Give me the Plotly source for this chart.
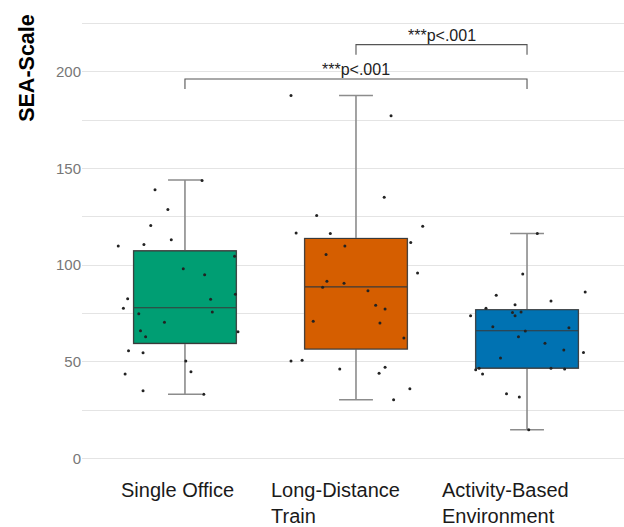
import plotly.graph_objects as go

# ---------------- data ----------------
categories = ["Single Office", "Long-Distance<br>Train", "Activity-Based<br>Environment"]
colors = ["#009E73", "#D55E00", "#0072B2"]

single_office = [138.9, 128.7, 120.4, 113.1, 109.9, 110.6, 104.6, 98.1, 95.0, 84.9,
                 82.3, 82.6, 77.6, 74.8, 75.7, 70.4, 65.5, 66.0, 62.9, 55.7,
                 54.7, 50.4, 44.8, 43.6, 35.0, 33.2, 143.7]
single_office_jitter = [-0.175, -0.10, -0.20, -0.08, -0.39, -0.24, 0.29, -0.01, 0.115, 0.295,
                        0.15, -0.335, -0.36, -0.27, 0.16, -0.12, 0.31, -0.26, -0.23, -0.33,
                        -0.245, 0.005, 0.035, -0.35, -0.245, 0.11, 0.10]

long_distance_train = [187.7, 177.2, 135.1, 125.6, 120.1, 116.6, 116.3, 111.6, 109.9, 105.4,
                       95.9, 91.6, 90.6, 88.5, 86.7, 79.2, 77.3, 70.9, 70.0, 62.3,
                       50.4, 50.7, 46.2, 47.1, 44.0, 36.0, 30.3]
long_distance_train_jitter = [-0.38, 0.205, 0.165, -0.23, 0.39, -0.35, -0.15, 0.32, -0.065, -0.175,
                              0.36, -0.17, -0.07, -0.195, 0.07, 0.115, 0.17, -0.25, 0.14, 0.28,
                              -0.38, -0.315, -0.095, 0.17, 0.135, 0.315, 0.22]

activity_based = [116.3, 95.4, 86.1, 84.4, 81.4, 79.5, 77.6, 75.4, 75.7, 73.8,
                  73.8, 68.1, 67.6, 65.9, 62.9, 59.5, 56.0, 54.8, 51.9, 46.6,
                  45.9, 46.6, 46.2, 43.6, 33.4, 31.8, 14.8]
activity_based_jitter = [0.06, -0.025, 0.34, -0.18, 0.14, -0.07, -0.24, -0.085, -0.035, -0.07,
                         -0.33, -0.2, 0.245, -0.01, -0.05, 0.105, 0.215, 0.33, -0.155, -0.28,
                         -0.30, 0.14, 0.22, -0.26, -0.12, -0.045, 0.01]

# box statistics
q1 = [59.5, 56.6, 46.7]
median = [77.9, 88.7, 66.0]
q3 = [107.3, 113.7, 76.9]
lower_whisker = [33.2, 30.3, 14.8]
upper_whisker = [144.0, 187.7, 116.3]

# significance comparisons: (group a, group b, bracket height, label)
comparisons = [(0, 2, 196.2, "***p<.001"), (1, 2, 214.0, "***p<.001")]
bracket_drop = 5.2

y_ticks = [0, 50, 100, 150, 200]

groups = [single_office, long_distance_train, activity_based]
jitters = [single_office_jitter, long_distance_train_jitter, activity_based_jitter]

FONT = "Liberation Sans, Arial, sans-serif"

fig = go.Figure()

for i in range(3):
    # whiskers (gray)
    fig.add_trace(go.Box(
        x=[i], q1=[q1[i]], median=[median[i]], q3=[q3[i]],
        lowerfence=[lower_whisker[i]], upperfence=[upper_whisker[i]],
        width=0.6, whiskerwidth=0.33, boxpoints=False,
        line=dict(color="#8c8c8c", width=1.6),
        fillcolor="rgba(0,0,0,0)", hoverinfo="skip", showlegend=False))
    # box body
    fig.add_trace(go.Box(
        x=[i], q1=[q1[i]], median=[median[i]], q3=[q3[i]],
        lowerfence=[q1[i]], upperfence=[q3[i]],
        width=0.6, whiskerwidth=0, boxpoints=False,
        line=dict(color="#3a3a3a", width=1.1),
        fillcolor=colors[i], showlegend=False))

for i in range(3):
    fig.add_trace(go.Scatter(
        x=[i + j for j in jitters[i]], y=groups[i], mode="markers",
        marker=dict(color="#222222", size=3),
        showlegend=False, hoverinfo="y"))

# significance brackets
for a, b, h, label in comparisons:
    fig.add_trace(go.Scatter(
        x=[a, a, b, b], y=[h - bracket_drop, h, h, h - bracket_drop],
        mode="lines", line=dict(color="#555555", width=1.1),
        showlegend=False, hoverinfo="skip"))
    fig.add_annotation(x=(a + b) / 2, y=h, xref="x", yref="y",
                       text=label, showarrow=False, yanchor="bottom", yshift=-1,
                       font=dict(family=FONT, size=16, color="#222222"))

# category labels (left-aligned lines, as in the reference)
label_shift = [-7, -20, -22]
for i, cat in enumerate(categories):
    fig.add_annotation(x=i, y=0, xref="x", yref="paper", text=cat,
                       showarrow=False, xanchor="center", yanchor="top", align="left",
                       xshift=label_shift[i], yshift=-8, borderpad=0,
                       font=dict(family=FONT, size=20, color="#1a1a1a"))

# y-axis title
fig.add_annotation(x=-0.1015, y=0.863, xref="paper", yref="paper",
                   text="<b>SEA-Scale</b>", textangle=-90, showarrow=False,
                   xanchor="center", yanchor="middle",
                   font=dict(family=FONT, size=21.5, color="#000000"))

fig.update_layout(
    width=624, height=527,
    margin=dict(l=82, r=0, t=4, b=57),
    paper_bgcolor="white", plot_bgcolor="white",
    boxmode="overlay",
    font=dict(family=FONT),
    xaxis=dict(range=[-0.602, 2.567], showgrid=False, zeroline=False,
               showticklabels=False, ticks="", showline=False),
    yaxis=dict(range=[-6, 235], tickvals=y_ticks, ticks="", showline=False,
               zeroline=False, showgrid=True, gridcolor="#e4e4e4", gridwidth=1,
               minor=dict(dtick=25, tick0=0, showgrid=True, gridcolor="#e4e4e4", gridwidth=1),
               tickfont=dict(family=FONT, size=15, color="#777777")),
)

fig.write_html("out.html", config={"displayModeBar": False},
               post_script="document.body.style.margin='0';")
